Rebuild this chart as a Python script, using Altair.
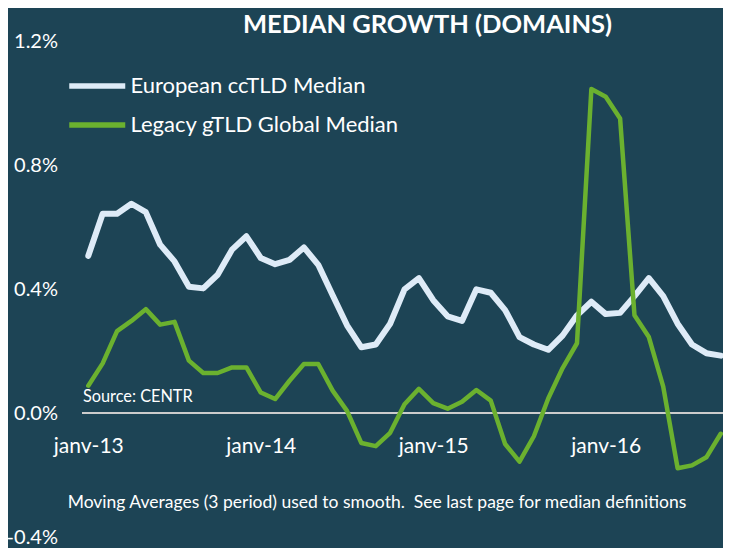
import altair as alt
import pandas as pd

# ---- data ----
months = [f"{y}-{m:02d}" for y in range(2013, 2017) for m in range(1, 13)][:45]

european = [0.507, 0.643, 0.643, 0.675, 0.648, 0.543, 0.489, 0.407, 0.402, 0.446, 0.527, 0.570,
            0.500, 0.480, 0.494, 0.534, 0.478, 0.380, 0.283, 0.212, 0.221, 0.288, 0.399, 0.435,
            0.364, 0.312, 0.297, 0.399, 0.388, 0.332, 0.245, 0.221, 0.204, 0.250, 0.315, 0.359,
            0.319, 0.323, 0.377, 0.435, 0.377, 0.288, 0.221, 0.193, 0.185]

legacy = [0.088, 0.160, 0.264, 0.297, 0.335, 0.285, 0.294, 0.169, 0.129, 0.129, 0.147, 0.147,
          0.066, 0.045, 0.104, 0.158, 0.158, 0.072, 0.007, -0.097, -0.107, -0.064, 0.028, 0.078,
          0.032, 0.014, 0.036, 0.074, 0.040, -0.100, -0.157, -0.075, 0.047, 0.145, 0.225, 1.045,
          1.020, 0.950, 0.315, 0.245, 0.085, -0.178, -0.169, -0.143, -0.067]

series_names = ["European ccTLD Median", "Legacy gTLD Global Median"]
series_colors = ["#deebf7", "#6bb12f"]

x_tick_values = ["2013-01", "2014-01", "2015-01", "2016-01"]
x_tick_labels = ["janv-13", "janv-14", "janv-15", "janv-16"]
y_tick_values = [-0.4, 0.0, 0.4, 0.8, 1.2]

title_text = "MEDIAN GROWTH (DOMAINS)"
source_text = "Source: CENTR"
footnote_text = "Moving Averages (3 period) used to smooth.\u00a0 See last page for median definitions"

# ---- build tables ----
df = pd.concat([
    pd.DataFrame({"month": months, "value": european, "series": series_names[0]}),
    pd.DataFrame({"month": months, "value": legacy, "series": series_names[1]}),
])

FONT = "Lato"
BG = "#1d4455"
WHITE = "#ffffff"

PLOT_W = 641
PLOT_H = 496

vals_js = "[" + ",".join(f"'{v}'" for v in x_tick_values) + "]"
labs_js = "[" + ",".join(f"'{v}'" for v in x_tick_labels) + "]"

x_enc = alt.X(
    "month:O",
    scale=alt.Scale(type="point", padding=0.2985, align=0.734),
    axis=alt.Axis(
        values=x_tick_values,
        labelExpr=f"{labs_js}[indexof({vals_js}, datum.value)]",
        labelAngle=0,
        labelFont=FONT,
        labelFontSize=21,
        labelColor=WHITE,
        labelPadding=22,
        domain=False,
        ticks=False,
        grid=False,
        offset=-124,
        title=None,
    ),
)
y_enc = alt.Y(
    "value:Q",
    scale=alt.Scale(domain=[-0.4, 1.2], nice=False, zero=False),
    axis=alt.Axis(
        values=y_tick_values,
        labelExpr="(datum.value < 0 ? '-' : '') + format(abs(datum.value), '.1f') + '%'",
        labelFont=FONT,
        labelFontSize=20,
        labelColor=WHITE,
        labelPadding=24.5,
        domain=False,
        ticks=False,
        grid=False,
        title=None,
    ),
)
color_enc = alt.Color(
    "series:N",
    scale=alt.Scale(domain=series_names, range=series_colors),
    legend=alt.Legend(
        title=None,
        orient="none",
        legendX=2.25,
        legendY=32,
        symbolType="M-2.8,0H2.8",
        symbolSize=400,
        symbolStrokeWidth=5.5,
        labelFont=FONT,
        labelFontSize=22,
        labelColor=WHITE,
        labelOffset=20.25,
        rowPadding=15,
        padding=0,
        labelLimit=400,
    ),
)

zero_rule = alt.Chart(pd.DataFrame({"zero": [0.0]})).mark_rule(
    color="#cccccc", strokeWidth=2
).encode(y=alt.Y("zero:Q"))

line_white = alt.Chart(df).transform_filter(
    alt.datum.series == series_names[0]
).mark_line(strokeWidth=6, strokeCap="round", strokeJoin="round").encode(
    x=x_enc, y=y_enc, color=color_enc
)
line_green = alt.Chart(df).transform_filter(
    alt.datum.series == series_names[1]
).mark_line(strokeWidth=4.5, strokeCap="round", strokeJoin="round").encode(
    x=x_enc, y=y_enc, color=color_enc
)

title = alt.Chart(pd.DataFrame({"t": [title_text]})).mark_text(
    align="center", baseline="alphabetic", font=FONT, fontSize=25.5,
    fontWeight="bold", color=WHITE
).encode(x=alt.value(345.5), y=alt.value(-7.7), text="t:N")

source = alt.Chart(pd.DataFrame({"t": [source_text]})).mark_text(
    align="left", baseline="alphabetic", font=FONT, fontSize=16.3, color=WHITE
).encode(x=alt.value(1), y=alt.value(360.7), text="t:N")

footnote = alt.Chart(pd.DataFrame({"t": [footnote_text]})).mark_text(
    align="center", baseline="alphabetic", font=FONT, fontSize=17.5, color=WHITE
).encode(x=alt.value(295), y=alt.value(467), text="t:N")

chart = alt.layer(zero_rule, line_white, line_green, title, source, footnote).properties(
    width=PLOT_W,
    height=PLOT_H,
    autosize=alt.AutoSizeParams(type="none"),
    padding={"left": 74, "top": 33, "right": 0, "bottom": 11},
    background=BG,
).configure_view(stroke=None)

chart.save("out.html", embed_options={"renderer": "svg", "actions": False})
